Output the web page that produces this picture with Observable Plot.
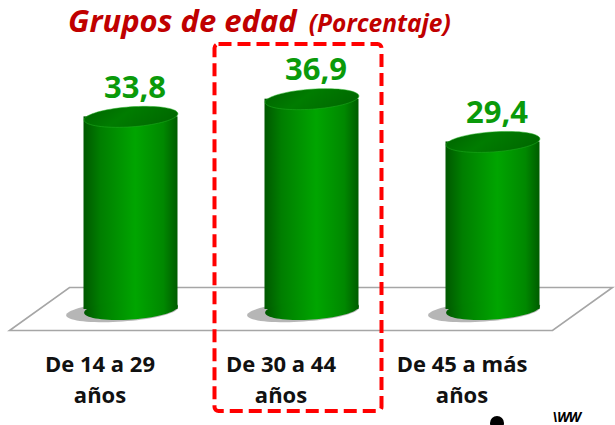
<!DOCTYPE html>
<html>
<head>
<meta charset="utf-8">
<script src="https://cdn.jsdelivr.net/npm/d3@7"></script>
<script src="https://cdn.jsdelivr.net/npm/@observablehq/plot@0.6"></script>
<style>
  html, body { margin: 0; padding: 0; background: #fff; width: 615px; height: 425px; overflow: hidden; position: relative; }
  #title { height: 44px; box-sizing: border-box; padding: 0 0 0 68px; margin-top: -1px; font: italic 700 31px "Open Sans", sans-serif; line-height: normal; color: #C00000; white-space: nowrap; overflow: visible; }
  #title .sub { font-size: 24.5px; margin-left: 4px; }
  #chart svg { display: block; }
  .logo-dot { position: absolute; left: 490px; top: 416px; width: 14px; height: 14px; border-radius: 50%; background: #000; }
  .logo-txt { position: absolute; left: 552px; top: 410px; font: italic 700 14px/14px "Open Sans", sans-serif; color: #000; letter-spacing: -1px; }
</style>
</head>
<body>
<div id="title">Grupos de edad <span class="sub">(Porcentaje)</span></div>
<div id="chart"></div>
<div class="logo-dot"></div>
<div class="logo-txt">\WW</div>
<script>
// ---- data ----
const categories = ["De 14 a 29 años", "De 30 a 44 años", "De 45 a más años"];
const tickLabels = ["De 14 a 29\naños", "De 30 a 44\naños", "De 45 a más\naños"];
const values = [33.8, 36.9, 29.4];
const valueLabels = ["33,8", "36,9", "29,4"];
const highlighted = "De 30 a 44 años";

const data = categories.map((c, i) => ({category: c, value: values[i], label: valueLabels[i]}));

// ---- helpers ----
function ellipseSymbol(rx, ry, deg) {
  const a = deg * Math.PI / 180;
  return {
    draw(ctx) {
      const n = 72;
      for (let i = 0; i <= n; i++) {
        const t = i / n * 2 * Math.PI;
        const px = rx * Math.cos(t), py = ry * Math.sin(t);
        const X = px * Math.cos(a) - py * Math.sin(a);
        const Y = px * Math.sin(a) + py * Math.cos(a);
        if (i === 0) ctx.moveTo(X, Y); else ctx.lineTo(X, Y);
      }
      ctx.closePath();
    }
  };
}
const RX = 47, RY = 10, TILT = -4;
const ellipse = ellipseSymbol(RX, RY, TILT);
const shadowEllipse = ellipseSymbol(56, 10, TILT);

const defs = () => {
  const g = d3.create("svg:defs");
  g.html(`
    <linearGradient id="bodyGrad" x1="0" x2="1" y1="0" y2="0">
      <stop offset="0" stop-color="#005800"/>
      <stop offset="0.18" stop-color="#007e00"/>
      <stop offset="0.55" stop-color="#00a500"/>
      <stop offset="0.85" stop-color="#008800"/>
      <stop offset="1" stop-color="#005c00"/>
    </linearGradient>
    <linearGradient id="topGrad" x1="0" x2="1" y1="0" y2="0.3">
      <stop offset="0" stop-color="#006200"/>
      <stop offset="0.5" stop-color="#007c00"/>
      <stop offset="1" stop-color="#006a00"/>
    </linearGradient>
    <filter id="blur" x="-50%" y="-150%" width="200%" height="400%">
      <feGaussianBlur stdDeviation="5"/>
    </filter>`);
  return g.node();
};

// floor (3D plane) derived from the x range and y(0)
const floor = (index, scales, values, dims) => {
  const [x0, x1] = scales.x.range ? scales.x.range() : [dims.marginLeft, dims.width - dims.marginRight];
  const y0 = scales.y(0);
  const skew = 30, half = 21.5;
  const pts = [[x0 + skew, y0 - half], [x1 + skew, y0 - half], [x1 - skew, y0 + half], [x0 - skew, y0 + half]];
  const p = d3.create("svg:path")
    .attr("d", "M" + pts.join("L") + "Z")
    .attr("fill", "#fff")
    .attr("stroke", "#a6a6a6")
    .attr("stroke-width", 1.6);
  return p.node();
};

// dashed highlight around the selected category
const highlight = (index, scales, values, dims) => {
  const bw = scales.x.bandwidth ? scales.x.bandwidth() : 181;
  const cx = scales.x(highlighted) + bw / 2;
  const r = d3.create("svg:rect")
    .attr("x", cx - 97).attr("width", 167)
    .attr("y", 1).attr("height", dims.height - 14)
    .attr("rx", 4)
    .attr("fill", "none")
    .attr("stroke", "#FF0000")
    .attr("stroke-width", 4)
    .attr("stroke-dasharray", "13 6");
  return r.node();
};

const plot = Plot.plot({
  width: 615,
  height: 381,
  marginLeft: 39.5,
  marginRight: 32.5,
  marginTop: 38,
  marginBottom: 115,
  style: {fontFamily: "'Open Sans', sans-serif", background: "transparent", overflow: "visible"},
  x: {domain: categories, padding: 0, axis: null},
  y: {domain: [0, 40], axis: null},
  marks: [
    defs,
    floor,
    Plot.dot(data, {x: "category", y: 0, symbol: shadowEllipse, r: 5, fill: "#7a7a7a", fillOpacity: 0.55, stroke: "none", dx: -9, dy: 2, ariaLabel: "shadow"}),
    Plot.barY(data, {x: "category", y: "value", fill: "url(#bodyGrad)", insetLeft: 43.5, insetRight: 43.5}),
    Plot.dot(data, {x: "category", y: 0, symbol: ellipse, r: 5, fill: "url(#bodyGrad)", stroke: "none"}),
    Plot.dot(data, {x: "category", y: "value", symbol: ellipse, r: 5, fill: "url(#topGrad)", stroke: "#22b022", strokeWidth: 1, strokeOpacity: 0.5}),
    Plot.text(data, {x: "category", y: "value", text: "label", lineAnchor: "bottom", dy: -19, dx: 4, fill: "#0A9A0A", fontSize: 31, fontWeight: 700}),
    Plot.axisX({tickSize: 0, tickPadding: 40, dx: -31, fontSize: 22, fontWeight: 700, lineHeight: 1.42, fill: "#111", label: null,
      tickFormat: (d) => tickLabels[categories.indexOf(d)]}),
    highlight
  ]
});

d3.select(plot).select('g[aria-label="shadow"]').attr("filter", "url(#blur)");
document.getElementById("chart").appendChild(plot);
</script>
</body>
</html>
